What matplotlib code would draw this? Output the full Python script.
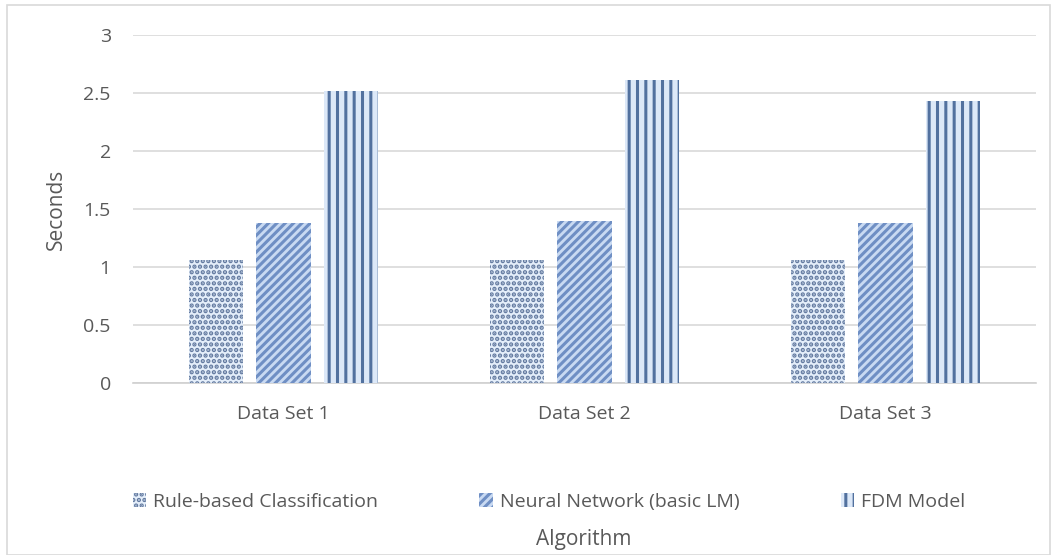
import numpy as np
import matplotlib.pyplot as plt

plt.rcParams['font.family'] = ['Open Sans', 'DejaVu Sans']
plt.rcParams['hatch.linewidth'] = 2.2

datasets = ["Data Set 1", "Data Set 2", "Data Set 3"]
series_names = ["Rule-based Classification", "Neural Network (basic LM)", "FDM Model"]
rule_based = [1.06, 1.06, 1.06]
neural_net = [1.38, 1.40, 1.38]
fdm_model = [2.52, 2.61, 2.43]

face_colors = ["#e4eefa", "#c9daf2", "#dce8f8"]
hatch_colors = ["#62799f", "#6f8fc4", "#52719f"]
hatches = ["...", "////", "||"]
text_gray = "#595959"

fig = plt.figure(figsize=(10.58, 5.55), dpi=100)
ax = fig.add_axes([133 / 1058, 1 - 383 / 555, 903 / 1058, 348 / 555])

x = np.arange(len(datasets))
width = 0.18
offsets = [-0.223, 0.0, 0.223]
for vals, off, fc, hc, h, name in zip([rule_based, neural_net, fdm_model], offsets,
                                       face_colors, hatch_colors, hatches, series_names):
    ax.bar(x + off, vals, width, color=fc, edgecolor=hc, hatch=h, linewidth=0,
           label=name, zorder=3)

ax.set_xlim(-0.5, 2.5)
ax.set_ylim(0, 3)
ax.set_yticks(np.arange(0, 3.01, 0.5))
ax.set_yticklabels(["0", "0.5", "1", "1.5", "2", "2.5", "3"])
ax.set_xticks(x)
ax.set_xticklabels(datasets)
ax.grid(axis="y", color="#d9d9d9", linewidth=1.2, zorder=0)
for side in ["top", "right", "left"]:
    ax.spines[side].set_visible(False)
ax.spines["bottom"].set_color("#d0d0d0")
ax.spines["bottom"].set_linewidth(1.2)
ax.tick_params(axis="both", length=0, labelsize=14, colors=text_gray)
ax.tick_params(axis="x", pad=16)
ax.tick_params(axis="y", pad=16)
ax.set_ylabel("Seconds", fontsize=15, color=text_gray, labelpad=12)

ax.legend(loc="center", bbox_to_anchor=(549 / 1058, 1 - 502 / 555),
          bbox_transform=fig.transFigure, ncol=3, frameon=False,
          fontsize=14, labelcolor=text_gray, handlelength=0.7, handleheight=0.7,
          handletextpad=0.35, columnspacing=5.2)
fig.text(584 / 1058, 1 - 540 / 555, "Algorithm", ha="center", va="center",
         fontsize=15, color=text_gray)

# thin frame around the whole chart
fig.patches.append(plt.Rectangle((7 / 1058, 0), 1043 / 1058, 1 - 5 / 555,
                                 transform=fig.transFigure, fill=False,
                                 edgecolor="#d9d9d9", linewidth=1.2))

fig.savefig("out.png", dpi=100)
